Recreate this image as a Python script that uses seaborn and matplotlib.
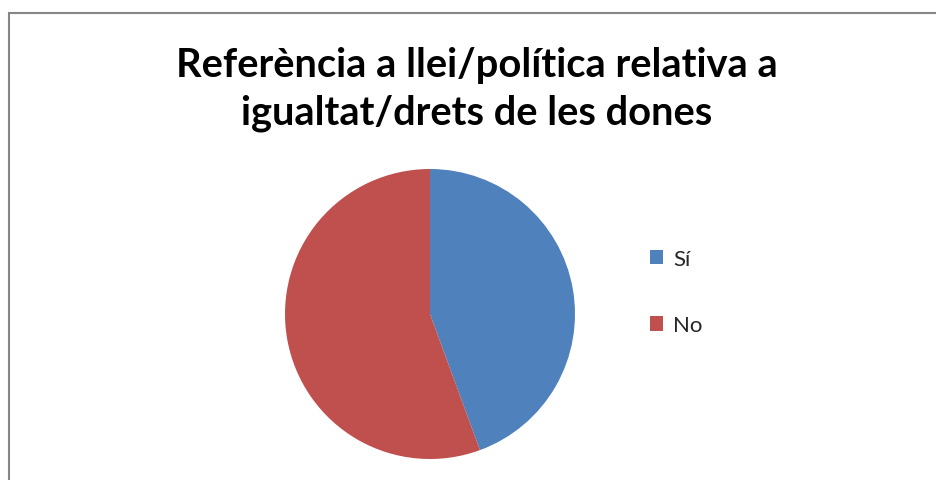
import seaborn as sns
from matplotlib import pyplot as plt
from matplotlib.patches import Rectangle

labels = ['Sí', 'No']
values = [44.4, 55.6]
colors = ['#4F81BD', '#C0504D']
title = 'Referència a llei/política relativa a\nigualtat/drets de les dones'

sns.set_theme(style='white')
plt.rcParams['font.family'] = ['Lato', 'DejaVu Sans']

W, H = 936, 481
fig = plt.figure(figsize=(W / 100, H / 100), dpi=100)

# chart frame (runs off the right and bottom of the picture)
fig.patches.append(Rectangle((8.5 / W, -0.2), 1.2, 1.2 - 13.5 / H, transform=fig.transFigure,
                             fill=False, edgecolor='#868686', linewidth=1.5))

cx, cy, r = 430, 315, 145
ax = fig.add_axes([(cx - r) / W, (H - cy - r) / H, 2 * r / W, 2 * r / H])
wedges, _ = ax.pie(values, colors=colors, startangle=90, counterclock=False,
                   wedgeprops=dict(linewidth=0))
ax.set_xlim(-1, 1)
ax.set_ylim(-1, 1)
ax.set_axis_off()

fig.text(477 / W, 1 - 89.5 / H, title, ha='center', va='center', fontsize=28.7,
         fontweight='bold', linespacing=1.36, color='black')

fig.legend(wedges, labels, loc='center left', bbox_to_anchor=(650 / W, 1 - 293 / H),
           frameon=False, fontsize=16, handlelength=0.6, handleheight=0.6,
           handletextpad=0.45, labelspacing=2.1, borderpad=0, borderaxespad=0)

fig.savefig('out.png', dpi=100)
